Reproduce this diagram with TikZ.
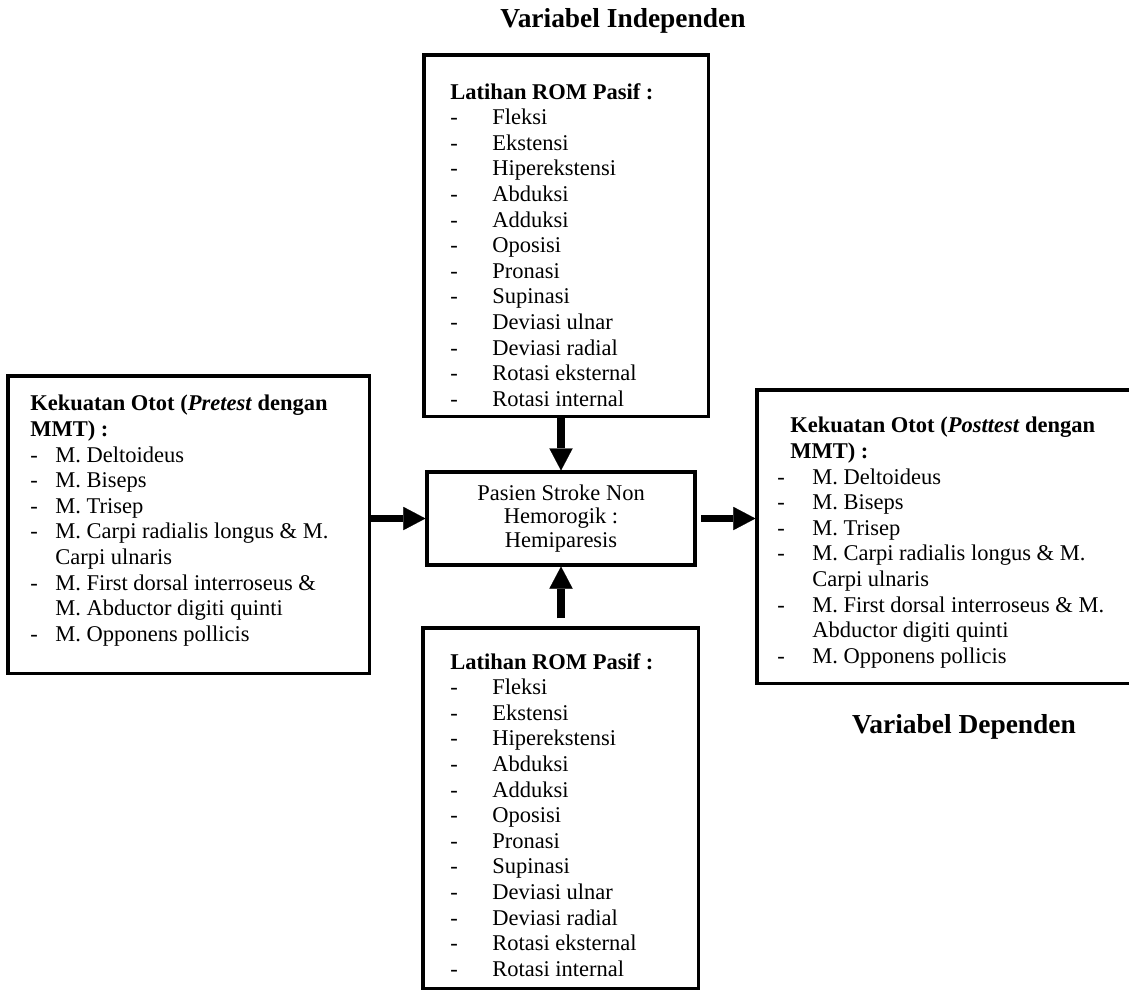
\documentclass[tikz,border=0pt]{standalone}
\usepackage{fontspec}
\setmainfont{Liberation Serif}
\usetikzlibrary{arrows.meta}

\newcommand{\dashitem}[2][1.05cm]{\makebox[#1][l]{-}#2}
\newcommand{\romlist}{%
\textbf{Latihan ROM Pasif :}\\
\dashitem{Fleksi}\\
\dashitem{Ekstensi}\\
\dashitem{Hiperekstensi}\\
\dashitem{Abduksi}\\
\dashitem{Adduksi}\\
\dashitem{Oposisi}\\
\dashitem{Pronasi}\\
\dashitem{Supinasi}\\
\dashitem{Deviasi ulnar}\\
\dashitem{Deviasi radial}\\
\dashitem{Rotasi eksternal}\\
\dashitem{Rotasi internal}}

\begin{document}
\begin{tikzpicture}[x=0.025cm,y=-0.025cm,
box/.style={draw,line width=2.2pt,inner sep=0pt},
txt/.style={anchor=north west,align=left,inner sep=0pt,font=\fontsize{16}{18.2}\selectfont},
title/.style={anchor=base,inner sep=0pt,font=\fontsize{19.5}{22}\selectfont\bfseries},
flow/.style={line width=5pt,-{Triangle[length=0.55cm,width=0.58cm,line width=0.1pt]}}]
\useasboundingbox (0,0) rectangle (1129,994);

\node[title] (indep) at (623,27) {Variabel Independen};
\node[title] (dep) at (964,733) {Variabel Dependen};

%%%%%%%%%% centre
\node[box,minimum width=6.7cm,minimum height=2.325cm,align=center,
  font=\fontsize{16}{16.8}\selectfont] (pasien) at (561,518.5)
  {Pasien Stroke Non\\Hemorogik :\\Hemiparesis};

%%%%%%%%%% top ROM
\node[box,minimum width=7.1cm,minimum height=9.025cm] (romA) at (566,235.5) {};
\node[txt] (romAtxt) at (450,83) {\romlist};

%%%%%%%%%% bottom ROM
\node[box,minimum width=6.875cm,minimum height=9cm] (romB) at (560.5,808) {};
\node[txt] (romBtxt) at (450,653) {\romlist};

%%%%%%%%%% left pretest
\node[box,minimum width=9.025cm,minimum height=7.425cm] (pre) at (188.5,524.5) {};
\node[txt] (pretxt) at (30,395) {%
\textbf{Kekuatan Otot (\textit{Pretest} dengan}\\
\textbf{MMT) :}\\
\dashitem[0.625cm]{M. Deltoideus}\\
\dashitem[0.625cm]{M. Biseps}\\
\dashitem[0.625cm]{M. Trisep}\\
\dashitem[0.625cm]{M. Carpi radialis longus \& M.}\\
\hspace*{0.625cm}Carpi ulnaris\\
\dashitem[0.625cm]{M. First dorsal interroseus \&}\\
\hspace*{0.625cm}M. Abductor digiti quinti\\
\dashitem[0.625cm]{M. Opponens pollicis}};

%%%%%%%%%% right posttest
\node[box,minimum width=9.375cm,minimum height=7.325cm] (post) at (944.5,536.5) {};
\node[txt] (posttxt) at (777,417) {%
\hspace*{0.325cm}\textbf{Kekuatan Otot (\textit{Posttest} dengan}\\
\hspace*{0.325cm}\textbf{MMT) :}\\
\dashitem[0.875cm]{M. Deltoideus}\\
\dashitem[0.875cm]{M. Biseps}\\
\dashitem[0.875cm]{M. Trisep}\\
\dashitem[0.875cm]{M. Carpi radialis longus \& M.}\\
\hspace*{0.875cm}Carpi ulnaris\\
\dashitem[0.875cm]{M. First dorsal interroseus \& M.}\\
\hspace*{0.875cm}Abductor digiti quinti\\
\dashitem[0.875cm]{M. Opponens pollicis}};

%%%%%%%%%% arrows
\draw[flow] (pasien.north |- romA.south) -- (pasien.north);
\draw[flow,shorten <=0.2cm] (pasien.south |- romB.north) -- (pasien.south);
\draw[flow] (pasien.west -| pre.east) -- (pasien.west);
\draw[flow,shorten <=0.12cm] (pasien.east) -- (pasien.east -| post.west);
\end{tikzpicture}
\end{document}
